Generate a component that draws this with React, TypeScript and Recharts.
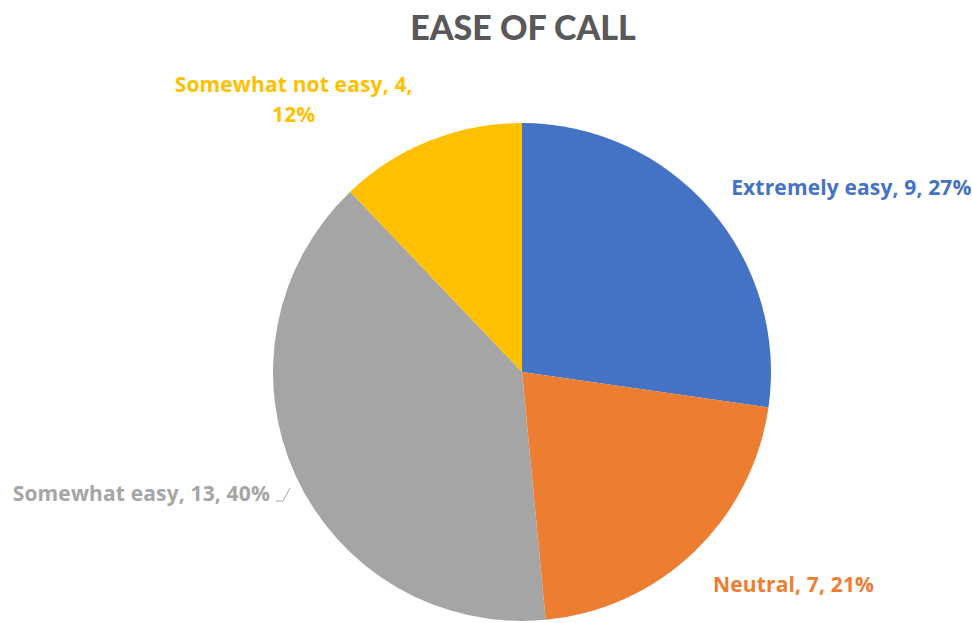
import React from 'react';
import { PieChart, Pie, Cell } from 'recharts';

const categories = ['Extremely easy', 'Neutral', 'Somewhat easy', 'Somewhat not easy'];
const counts = [9, 7, 13, 4];
const colors = ['#4472C4', '#ED7D31', '#A5A5A5', '#FFC000'];
const title = 'EASE OF CALL';

// Largest-remainder rounding so percentages sum to 100 (as shown in the chart)
function roundedPercents(vals: number[]): number[] {
  const total = vals.reduce((a, b) => a + b, 0);
  const raw = vals.map((v) => (v / total) * 100);
  const floors = raw.map((r) => Math.floor(r));
  let remaining = 100 - floors.reduce((a, b) => a + b, 0);
  const order = raw
    .map((r, i) => ({ i, rem: r - Math.floor(r) }))
    .sort((a, b) => b.rem - a.rem);
  const out = [...floors];
  for (let k = 0; k < order.length && remaining > 0; k++, remaining--) out[order[k].i] += 1;
  return out;
}
const percents = roundedPercents(counts);

const data = categories.map((name, i) => ({ name, value: counts[i] }));

const FONT = '"Open Sans", Lato, sans-serif';
const TITLE_FONT = 'Lato, "Open Sans", sans-serif';
const RADIAN = Math.PI / 180;

// label placement styling (relative to polar point just outside the slice)
const labelStyle = [
  { dx: -11, dy: 14, anchor: 'start', lines: 1 },
  { dx: -10, dy: 9, anchor: 'start', lines: 1 },
  { dx: 13, dy: 8, anchor: 'end', lines: 1 },
  { dx: -120, dy: -10, anchor: 'middle', lines: 2 },
];

const renderLabel = (props: any) => {
  const { cx, cy, midAngle, outerRadius, index } = props;
  const r = outerRadius * 1.17;
  const px = cx + r * Math.cos(-midAngle * RADIAN);
  const py = cy + r * Math.sin(-midAngle * RADIAN);
  const s = labelStyle[index];
  const x = px + s.dx;
  const y = py + s.dy;
  const name = categories[index];
  const val = counts[index];
  const pct = percents[index];
  const color = colors[index];
  const common = {
    fill: color,
    fontFamily: FONT,
    fontWeight: 700,
    fontSize: 21,
    letterSpacing: 0.15,
    textAnchor: s.anchor as any,
  };
  if (s.lines === 2) {
    return (
      <g key={`lbl-${index}`}>
        <text x={x} y={y} {...common}>{`${name}, ${val},`}</text>
        <text x={x} y={y + 30} {...common}>{`${pct}%`}</text>
      </g>
    );
  }
  return (
    <g key={`lbl-${index}`}>
      <text x={x} y={y} {...common}>{`${name}, ${val}, ${pct}%`}</text>
      {index === 2 && (
        <polyline
          points={`${x + 6},${y} ${x + 13},${y} ${x + 20},${y - 13}`}
          fill="none"
          stroke="#A5A5A5"
          strokeWidth={1}
        />
      )}
    </g>
  );
};

export default function App() {
  return (
    <div style={{ position: 'absolute', left: 0, top: 0, width: 972, height: 623, background: '#fff' }}>
      <div
        style={{
          position: 'absolute',
          left: 0,
          top: 7,
          width: 1046,
          textAlign: 'center',
          fontFamily: TITLE_FONT,
          fontWeight: 900,
          fontSize: 34,
          color: '#595959',
          lineHeight: '40px',
        }}
      >
        {title}
      </div>
      <PieChart width={972} height={623} margin={{ top: 0, right: 0, bottom: 0, left: 0 }}>
        <Pie
          data={data}
          dataKey="value"
          nameKey="name"
          cx={522}
          cy={372}
          outerRadius={249}
          startAngle={90}
          endAngle={-270}
          stroke="none"
          label={renderLabel}
          labelLine={false}
          isAnimationActive={false}
        >
          {data.map((d, i) => (
            <Cell key={d.name} fill={colors[i]} stroke="none" />
          ))}
        </Pie>
      </PieChart>
    </div>
  );
}
